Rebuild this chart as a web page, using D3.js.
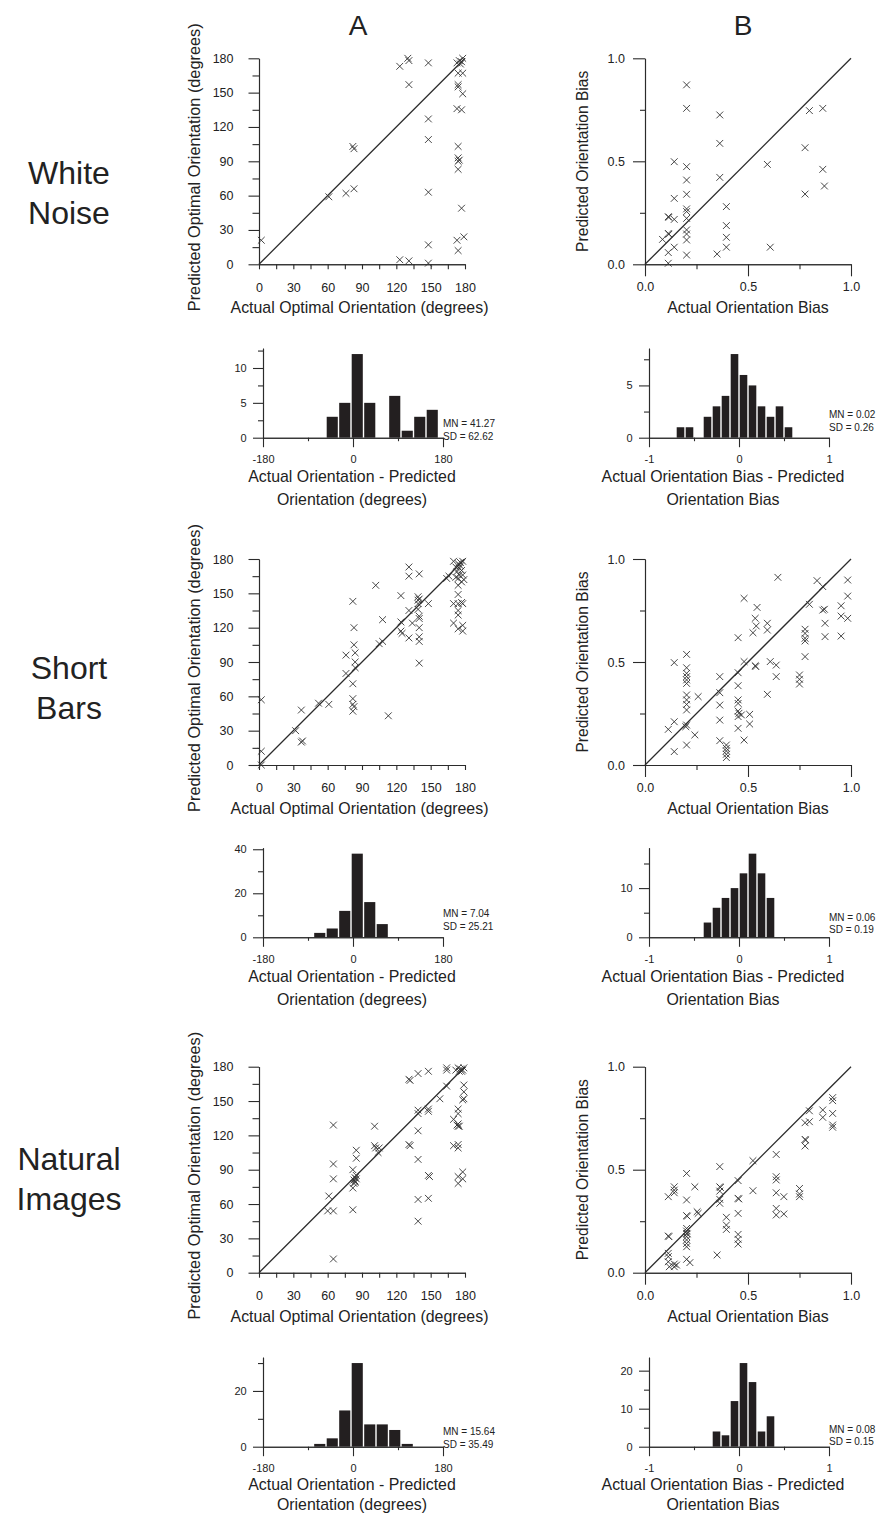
<!DOCTYPE html>
<html>
<head>
<meta charset="utf-8">
<script src="https://cdn.jsdelivr.net/npm/d3@7/dist/d3.min.js"></script>
<style>
  body { margin: 0; background: #fff; }
  svg { display: block; font-family: 'Liberation Sans', Arial, sans-serif; }
</style>
</head>
<body>
<svg id="fig" width="888" height="1515"></svg>
<script>
// ---- data ----
const columnTitles = ['A', 'B'];
const rowTitles = [['White', 'Noise'], ['Short', 'Bars'], ['Natural', 'Images']];

// [actual, predicted] optimal orientation (degrees)
const whiteNoiseOri = [[2,21],[61,59],[76,62],[83,66],[82,103],[83,101],[123,173],[130,180],[131,178],[131,157],
  [123,4],[131,3],[148,176],[148,127],[148,109],[148,63],[148,17],[148,1],[174,167],[178,167],[174,157],[174,155],
  [178,149],[173,136],[177,135],[174,103],[174,93],[175,91],[174,90],[174,83],[177,49],[173,21],[179,24],[174,12],
  [173,176],[175,178],[176,175],[178,180],[177,177]];
const shortBarsOri = [[2,0],[2,12],[2,57],[32,30],[37,48],[37,20],[38,21],[52,54],[61,53],
  [76,96],[76,80],[82,143],[83,120],[83,105],[84,98],[84,90],[84,85],[82,71],[82,58],[82,53],[83,51],[82,47],
  [102,157],[108,127],[105,106],[108,108],[113,43],
  [124,148],[124,125],[124,117],[125,115],[131,173],[131,165],[131,135],[131,111],[134,124],
  [139,144],[139,141],[139,147],[140,167],[139,136],[140,130],[140,128],[140,120],[140,112],[140,108],[140,89],
  [148,141],[164,163],[166,165],
  [170,178],[172,173],[173,169],[174,176],[175,172],[176,177],[178,178],[177,170],[175,166],[178,166],[179,162],
  [172,164],[174,157],[174,149],[170,141],[174,141],[177,142],[178,141],[174,135],[174,131],[170,124],[174,119],
  [178,122],[178,117],[174,163],[176,174],[177,160],[140,145]];
const naturalOri = [[65,12],[61,67],[60,54],[65,54],[65,129],[65,95],[65,82],
  [82,55],[82,90],[82,74],[84,80],[85,82],[85,85],[83,78],[83,81],[84,83],[85,100],[85,107],
  [101,128],[101,111],[104,105],[105,109],
  [131,169],[132,168],[131,112],[132,111],
  [139,174],[139,139],[139,142],[139,124],[139,99],[139,64],[139,45],
  [148,176],[148,143],[148,141],[148,85],[149,84],[148,65],
  [158,152],[164,179],[164,177],[164,163],
  [170,134],[170,111],[174,143],[174,139],[174,130],[175,128],[174,128],[174,112],[174,109],[174,84],[174,78],
  [178,88],[178,82],[179,164],[179,158],[179,152],[178,151],
  [176,178],[177,176],[179,179],[174,179],[175,176],[172,177],[178,177],[102,109],[84,79],[173,129]];

// [actual, predicted] orientation bias
const whiteNoiseBias = [[0.202,0.871],[0.202,0.757],[0.202,0.474],[0.202,0.409],[0.202,0.340],[0.202,0.269],
  [0.202,0.256],[0.202,0.223],[0.202,0.167],[0.202,0.147],[0.202,0.118],[0.202,0.045],
  [0.142,0.498],[0.142,0.320],[0.142,0.218],[0.142,0.083],
  [0.113,0.231],[0.116,0.228],[0.113,0.150],[0.116,0.146],[0.113,0.057],[0.113,0.005],[0.085,0.121],
  [0.363,0.725],[0.363,0.587],[0.363,0.422],[0.350,0.050],
  [0.395,0.280],[0.395,0.188],[0.395,0.131],[0.395,0.083],
  [0.594,0.485],[0.608,0.083],[0.777,0.566],[0.777,0.341],[0.798,0.746],[0.863,0.757],[0.863,0.461],[0.871,0.380]];
const shortBarsBias = [[0.113,0.173],[0.142,0.210],[0.142,0.065],[0.142,0.497],
  [0.202,0.537],[0.202,0.472],[0.202,0.445],[0.202,0.429],[0.202,0.413],[0.202,0.396],[0.202,0.340],[0.202,0.316],
  [0.202,0.294],[0.202,0.267],[0.202,0.194],[0.198,0.186],[0.202,0.097],
  [0.258,0.332],[0.242,0.146],
  [0.363,0.429],[0.363,0.351],[0.363,0.291],[0.363,0.218],[0.363,0.118],
  [0.395,0.097],[0.395,0.081],[0.395,0.068],[0.395,0.052],[0.395,0.036],
  [0.452,0.618],[0.452,0.448],[0.452,0.385],[0.452,0.316],[0.452,0.299],[0.452,0.262],[0.456,0.251],[0.452,0.235],
  [0.452,0.178],[0.468,0.243],
  [0.481,0.502],[0.481,0.121],[0.481,0.809],[0.508,0.246],[0.508,0.199],
  [0.535,0.482],[0.538,0.478],[0.544,0.765],[0.535,0.712],[0.540,0.675],[0.524,0.642],
  [0.594,0.688],[0.594,0.655],[0.594,0.343],[0.608,0.502],[0.637,0.485],[0.637,0.429],[0.645,0.911],
  [0.750,0.437],[0.750,0.416],[0.750,0.393],
  [0.777,0.659],[0.777,0.639],[0.777,0.615],[0.777,0.602],[0.777,0.526],[0.798,0.780],[0.835,0.895],[0.863,0.866],
  [0.871,0.756],[0.863,0.752],[0.874,0.688],[0.874,0.623],
  [0.952,0.773],[0.952,0.723],[0.952,0.626],[0.984,0.898],[0.984,0.820],[0.984,0.712]];
const naturalBias = [[0.113,0.369],[0.113,0.178],[0.116,0.175],[0.113,0.094],[0.113,0.078],[0.113,0.053],[0.118,0.029],
  [0.142,0.401],[0.142,0.417],[0.142,0.388],[0.142,0.042],[0.142,0.029],[0.153,0.037],
  [0.202,0.482],[0.202,0.353],[0.202,0.277],[0.205,0.274],[0.202,0.215],[0.202,0.202],[0.202,0.191],[0.205,0.188],
  [0.202,0.175],[0.202,0.159],[0.202,0.142],[0.202,0.126],[0.202,0.065],[0.218,0.049],
  [0.242,0.417],[0.253,0.296],[0.258,0.288],
  [0.363,0.515],[0.363,0.417],[0.366,0.414],[0.363,0.396],[0.363,0.356],[0.363,0.337],[0.350,0.086],
  [0.395,0.269],[0.395,0.231],[0.395,0.210],
  [0.452,0.447],[0.452,0.361],[0.455,0.358],[0.452,0.288],[0.452,0.186],[0.452,0.162],[0.452,0.139],
  [0.524,0.398],[0.524,0.544],
  [0.637,0.574],[0.637,0.466],[0.637,0.450],[0.637,0.388],[0.637,0.312],[0.637,0.280],[0.674,0.369],[0.674,0.285],
  [0.750,0.409],[0.750,0.382],[0.750,0.369],
  [0.777,0.728],[0.777,0.647],[0.780,0.644],[0.777,0.615],[0.798,0.786],[0.798,0.733],[0.863,0.790],[0.863,0.754],
  [0.911,0.850],[0.911,0.835],[0.911,0.773],[0.911,0.717],[0.911,0.706]];

// histograms: bin lower edges and counts
const oriBinWidth = 25;
const whiteNoiseOriBins = [-54, -29, -4, 21, 71, 96, 121, 146];
const whiteNoiseOriCounts = [3, 5, 12, 5, 6, 1, 3, 4];
const shortBarsOriBins = [-79, -54, -29, -4, 21, 46];
const shortBarsOriCounts = [2, 4, 12, 38, 16, 6];
const naturalOriBins = [-79, -54, -29, -4, 21, 46, 71, 96];
const naturalOriCounts = [1, 3, 13, 30, 8, 8, 6, 1];

const biasBinWidth = 0.1;
const whiteNoiseBiasBins = [-0.7, -0.6, -0.4, -0.3, -0.2, -0.1, 0, 0.1, 0.2, 0.3, 0.4, 0.5];
const whiteNoiseBiasCounts = [1, 1, 2, 3, 4, 8, 6, 5, 3, 2, 3, 1];
const shortBarsBiasBins = [-0.4, -0.3, -0.2, -0.1, 0, 0.1, 0.2, 0.3];
const shortBarsBiasCounts = [3, 6, 8, 10, 13, 17, 13, 8];
const naturalBiasBins = [-0.3, -0.2, -0.1, 0, 0.1, 0.2, 0.3];
const naturalBiasCounts = [4, 3, 12, 22, 17, 4, 8];

// histogram y ticks [labelled, minor]
const histYTicks = [
  [[0, 5, 10], [2.5, 7.5, 12.5]], [[0, 5], [2.5, 7.5]],
  [[0, 20, 40], [10, 30]], [[0, 10], [5, 15]],
  [[0, 20], [10, 30]], [[0, 10, 20], [5, 15]]
];
const histStats = [
  ['MN = 41.27', 'SD = 62.62'], ['MN = 0.02', 'SD = 0.26'],
  ['MN = 7.04', 'SD = 25.21'], ['MN = 0.06', 'SD = 0.19'],
  ['MN = 15.64', 'SD = 35.49'], ['MN = 0.08', 'SD = 0.15']
];

const oriTicks = [0, 30, 60, 90, 120, 150, 180];
const oriMinorTicks = [15, 45, 75, 105, 135, 165];
const biasTicks = [0, 0.5, 1];
const biasMinorTicks = [0.25, 0.75];

// ---- layout ----
const INK = '#2b2b2b';
const rows = [
  { top: 58.3, base: 437.7, statY: [-14, -1], titleY: [44.5, 67.5] },
  { top: 559, base: 937.3, statY: [-24, -11], titleY: [44.5, 67.5] },
  { top: 1066.7, base: 1446.7, statY: [-15, -2], titleY: [43, 63.5] }
];
const statYB = [[-23, -10], [-20, -8], [-17, -5]];
const scatterSize = 206;
const plain = d => String(d);  // hyphen minus like the original

const svg = d3.select('#fig');

function styleAxis(g) {
  g.selectAll('path, line').attr('stroke', INK).attr('stroke-width', 1.1);
  g.selectAll('text').attr('fill', '#222').attr('font-family', null);
}

function drawScatter(pts, opt) {
  const g = svg.append('g');
  const x = d3.scaleLinear().domain([0, opt.max]).range([opt.left, opt.left + scatterSize]);
  const y = d3.scaleLinear().domain([0, opt.max]).range([opt.top + scatterSize, opt.top]);

  // minor ticks first, then labelled ones
  g.append('g').attr('transform', `translate(${opt.left},0)`)
    .call(d3.axisLeft(y).tickValues(opt.minor).tickSize(opt.yMinor).tickSizeOuter(0).tickFormat(''))
    .call(styleAxis);
  g.append('g').attr('transform', `translate(0,${opt.top + scatterSize})`)
    .call(d3.axisBottom(x).tickValues(opt.minor).tickSize(opt.xMinor).tickSizeOuter(0).tickFormat(''))
    .call(styleAxis);

  g.append('g').attr('transform', `translate(${opt.left},0)`)
    .call(d3.axisLeft(y).tickValues(opt.ticks).tickSize(opt.yMajor).tickPadding(opt.yPad)
      .tickSizeOuter(0).tickFormat(opt.fmt))
    .call(styleAxis)
    .selectAll('text').attr('font-size', 12.5);
  g.append('g').attr('transform', `translate(0,${opt.top + scatterSize})`)
    .call(d3.axisBottom(x).tickValues(opt.ticks).tickSize(opt.xMajor).tickPadding(opt.xPad)
      .tickSizeOuter(0).tickFormat(opt.fmt))
    .call(styleAxis)
    .selectAll('text').attr('font-size', 12.5);

  // identity line
  g.append('line')
    .attr('x1', x(0)).attr('y1', y(0))
    .attr('x2', x(opt.max)).attr('y2', y(opt.max))
    .attr('stroke', INK).attr('stroke-width', 1.3);

  // x markers
  const r = 3.4;
  g.selectAll('.pt')
    .data(pts)
    .enter()
    .append('path')
    .attr('class', 'pt')
    .attr('d', d => {
      const cx = x(d[0]), cy = y(d[1]);
      return `M${cx - r},${cy - r}L${cx + r},${cy + r}M${cx - r},${cy + r}L${cx + r},${cy - r}`;
    })
    .attr('stroke', '#333')
    .attr('stroke-width', 0.9)
    .attr('fill', 'none');

  g.append('text')
    .attr('x', opt.left + scatterSize / 2 + opt.xTitleShift)
    .attr('y', opt.top + scatterSize + 49)
    .attr('text-anchor', 'middle')
    .attr('font-size', 15.9)
    .attr('fill', '#222')
    .text(opt.xTitle);

  g.append('text')
    .attr('transform', `translate(${opt.yTitleX},${opt.top + scatterSize / 2 + opt.yTitleShift}) rotate(-90)`)
    .attr('text-anchor', 'middle')
    .attr('font-size', opt.yTitleSize)
    .attr('fill', '#222')
    .text(opt.yTitle);
}

function drawHist(bins, counts, binWidth, opt) {
  const g = svg.append('g');
  const x = d3.scaleLinear().domain(opt.domain).range([opt.left, opt.left + 180]);
  const y = d3.scaleLinear().domain([0, d3.max(counts) * 1.07]).range([opt.base, opt.base - 89.5]);

  g.selectAll('.bar')
    .data(bins)
    .enter()
    .append('rect')
    .attr('class', 'bar')
    .attr('x', d => x(d) + 0.7)
    .attr('width', x(binWidth) - x(0) - 1.4)
    .attr('y', (d, i) => y(counts[i]))
    .attr('height', (d, i) => y(0) - y(counts[i]))
    .attr('fill', '#231f20');

  g.append('g').attr('transform', `translate(${opt.left},0)`)
    .call(d3.axisLeft(y).tickValues(opt.yMinor).tickSize(5).tickSizeOuter(0).tickFormat(''))
    .call(styleAxis);
  g.append('g').attr('transform', `translate(${opt.left},0)`)
    .call(d3.axisLeft(y).tickValues(opt.yTicks).tickSize(10).tickPadding(6.3).tickSizeOuter(0).tickFormat(plain))
    .call(styleAxis)
    .selectAll('text').attr('font-size', 11);

  g.append('g').attr('transform', `translate(0,${opt.base})`)
    .call(d3.axisBottom(x).tickValues(opt.xMinor).tickSize(3.5).tickSizeOuter(0).tickFormat(''))
    .call(styleAxis);
  g.append('g').attr('transform', `translate(0,${opt.base})`)
    .call(d3.axisBottom(x).tickValues(opt.xTicks).tickSize(9.5).tickPadding(8).tickSizeOuter(0).tickFormat(plain))
    .call(styleAxis)
    .selectAll('text').attr('font-size', 11);

  g.selectAll('.stat')
    .data(opt.stats)
    .enter()
    .append('text')
    .attr('class', 'stat')
    .attr('x', opt.left + 180)
    .attr('y', (d, i) => opt.base + opt.statY[i] + 3.5)
    .attr('font-size', 10)
    .attr('fill', '#222')
    .text(d => d);

  g.selectAll('.htitle')
    .data(opt.title)
    .enter()
    .append('text')
    .attr('class', 'htitle')
    .attr('x', opt.titleX)
    .attr('y', (d, i) => opt.base + opt.titleY[i])
    .attr('text-anchor', 'middle')
    .attr('font-size', 15.9)
    .attr('fill', '#222')
    .text(d => d);
}

// ---- headers ----
svg.selectAll('.col')
  .data(columnTitles)
  .enter()
  .append('text')
  .attr('class', 'col')
  .attr('x', (d, i) => [358, 743][i])
  .attr('y', 35)
  .attr('text-anchor', 'middle')
  .attr('font-size', 28)
  .attr('fill', '#222')
  .text(d => d);

const rowTitleY = [184, 679, 1170];
rowTitles.forEach((lines, r) => {
  svg.append('text')
    .attr('text-anchor', 'middle')
    .attr('font-size', 32)
    .attr('fill', '#222')
    .selectAll('tspan')
    .data(lines)
    .enter()
    .append('tspan')
    .attr('x', 69)
    .attr('y', (d, i) => rowTitleY[r] + i * 39.5)
    .text(d => d);
});

// ---- panels ----
const oriSets = [whiteNoiseOri, shortBarsOri, naturalOri];
const biasSets = [whiteNoiseBias, shortBarsBias, naturalBias];
const oriHist = [[whiteNoiseOriBins, whiteNoiseOriCounts], [shortBarsOriBins, shortBarsOriCounts], [naturalOriBins, naturalOriCounts]];
const biasHist = [[whiteNoiseBiasBins, whiteNoiseBiasCounts], [shortBarsBiasBins, shortBarsBiasCounts], [naturalBiasBins, naturalBiasCounts]];

rows.forEach((row, r) => {
  drawScatter(oriSets[r], {
    left: 259, top: row.top, max: 180,
    ticks: oriTicks, minor: oriMinorTicks, fmt: d3.format('d'),
    yMajor: 10.5, yMinor: 6.5, yPad: 15, xMajor: 5, xMinor: 5, xPad: 13.5,
    xTitle: 'Actual Optimal Orientation (degrees)', xTitleShift: -2.5,
    yTitle: 'Predicted Optimal Orientation (degrees)', yTitleX: 200, yTitleShift: 6, yTitleSize: 16.3
  });
  drawScatter(biasSets[r], {
    left: 645, top: row.top, max: 1,
    ticks: biasTicks, minor: biasMinorTicks, fmt: d3.format('.1f'),
    yMajor: 12, yMinor: 5, yPad: 8, xMajor: 12, xMinor: 5, xPad: 6,
    xTitle: 'Actual Orientation Bias', xTitleShift: 0,
    yTitle: 'Predicted Orientation Bias', yTitleX: 588, yTitleShift: 0, yTitleSize: 15.6
  });

  drawHist(oriHist[r][0], oriHist[r][1], oriBinWidth, {
    left: 263, base: row.base, domain: [-180, 180],
    xTicks: [-180, 0, 180], xMinor: [-90, 90],
    yTicks: histYTicks[r * 2][0], yMinor: histYTicks[r * 2][1],
    stats: histStats[r * 2], statY: row.statY, titleY: row.titleY,
    title: ['Actual Orientation - Predicted', 'Orientation (degrees)'], titleX: 352
  });
  drawHist(biasHist[r][0], biasHist[r][1], biasBinWidth, {
    left: 649, base: row.base, domain: [-1, 1],
    xTicks: [-1, 0, 1], xMinor: [-0.5, 0.5],
    yTicks: histYTicks[r * 2 + 1][0], yMinor: histYTicks[r * 2 + 1][1],
    stats: histStats[r * 2 + 1], statY: statYB[r], titleY: row.titleY,
    title: ['Actual Orientation Bias - Predicted', 'Orientation Bias'], titleX: 723
  });
});
</script>
</body>
</html>
